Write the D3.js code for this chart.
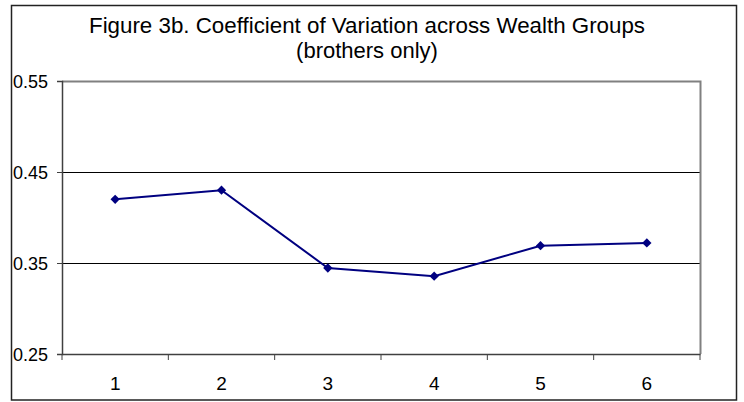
<!DOCTYPE html>
<meta charset="utf-8">
<head>
<style>
body { margin: 0; background: #fff; }
text { font-family: "Liberation Sans", Arial, sans-serif; fill: #000; }
</style>
<title>Coefficient of Variation</title>
</head>
<body>
<svg id="graphic" width="744" height="402"></svg>
<script src="https://d3js.org/d3.v7.min.js"></script>
<script>
var groups = [1, 2, 3, 4, 5, 6];
var cv = [0.420, 0.430, 0.3445, 0.3355, 0.369, 0.372];
var yTicks = [0.25, 0.35, 0.45, 0.55];

var svg = d3.select("svg"),
    margin = {top: 81, right: 44, bottom: 48, left: 62},
    width = 744 - margin.left - margin.right,
    height = 402 - margin.top - margin.bottom;

// outer chart border
svg.append("rect")
    .attr("x", 11.5).attr("y", 5.5)
    .attr("width", 725).attr("height", 394.5)
    .attr("fill", "#fff").attr("stroke", "#222").attr("stroke-width", 1.5);

var x = d3.scaleBand().domain(groups).range([0, width]);
var y = d3.scaleLinear().domain([0.25, 0.55]).range([height, 0]);

var g = svg.append("g").attr("transform", "translate(" + margin.left + "," + margin.top + ")");

// gridlines
g.selectAll("line.grid")
  .data([0.35, 0.45])
  .enter().append("line")
    .attr("class", "grid")
    .attr("x1", 0).attr("x2", width)
    .attr("y1", function(d) { return Math.round(y(d)) + 0.5; })
    .attr("y2", function(d) { return Math.round(y(d)) + 0.5; })
    .attr("stroke", "#000");

// plot area top and right border
g.append("path")
    .attr("d", "M0," + (Math.round(y(0.55)) + 0.5) + "H" + (width + 0.5) + "V" + height)
    .attr("fill", "none").attr("stroke", "#808080").attr("stroke-width", 2);

// y axis
var yAxis = g.append("g")
    .call(d3.axisLeft(y).tickValues(yTicks).tickSize(5).tickPadding(0).tickFormat(d3.format(".2f")));
yAxis.attr("font-size", 18).attr("font-family", null);
yAxis.select(".domain").attr("stroke", "#404040").attr("stroke-width", 1.5);
yAxis.selectAll(".tick line").attr("stroke", "#404040");
yAxis.selectAll("text")
    .attr("text-anchor", "start")
    .attr("x", -49)
    .attr("dy", "0.36em");

// x axis
var xAxis = g.append("g")
    .attr("transform", "translate(0," + height + ")")
    .call(d3.axisBottom(x).tickSize(0).tickPadding(23));
xAxis.attr("font-size", 19).attr("font-family", null);
xAxis.select(".domain").attr("stroke", "#404040").attr("stroke-width", 1.5);

// boundary tick marks between categories
var bounds = groups.map(function(d) { return x(d); }).concat([width]);
g.selectAll("line.xtick")
  .data(bounds)
  .enter().append("line")
    .attr("class", "xtick")
    .attr("x1", function(d) { return d; }).attr("x2", function(d) { return d; })
    .attr("y1", height).attr("y2", height + 6)
    .attr("stroke", "#404040");

// data line
var pts = groups.map(function(d, i) { return {g: d, v: cv[i]}; });
var line = d3.line()
    .x(function(d) { return x(d.g) + x.bandwidth() / 2; })
    .y(function(d) { return y(d.v); });

g.append("path")
    .datum(pts)
    .attr("d", line)
    .attr("fill", "none")
    .attr("stroke", "#000080")
    .attr("stroke-width", 2);

g.selectAll("path.marker")
  .data(pts)
  .enter().append("path")
    .attr("class", "marker")
    .attr("d", d3.symbol().type(d3.symbolDiamond2).size(55))
    .attr("transform", function(d) {
      return "translate(" + (x(d.g) + x.bandwidth() / 2) + "," + y(d.v) + ")";
    })
    .attr("fill", "#000080");

// title
svg.append("text")
    .attr("font-size", 22)
    .attr("x", 367).attr("y", 33)
    .attr("text-anchor", "middle")
    .attr("textLength", 556).attr("lengthAdjust", "spacingAndGlyphs")
    .text("Figure 3b. Coefficient of Variation across Wealth Groups");
svg.append("text")
    .attr("font-size", 22)
    .attr("x", 367).attr("y", 58)
    .attr("text-anchor", "middle")
    .text("(brothers only)");
</script>
</body>
